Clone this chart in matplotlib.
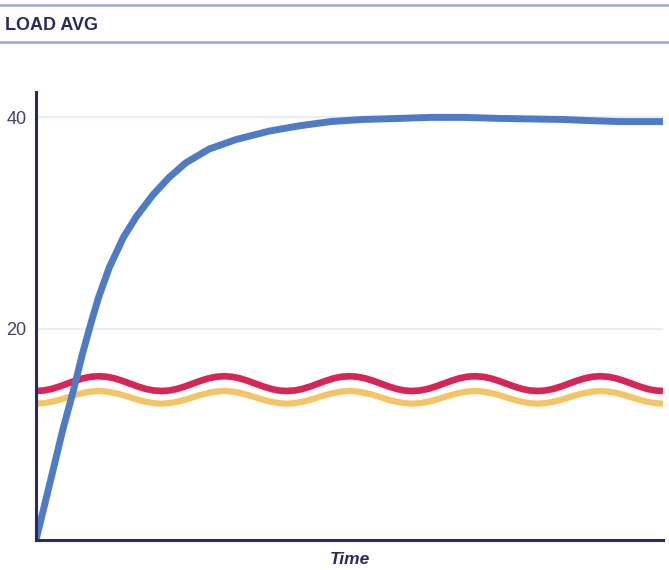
import matplotlib.pyplot as plt
from matplotlib.lines import Line2D

plt.rcParams['font.family'] = ['Liberation Sans', 'DejaVu Sans']

# time axis (0..100)
blue_t = [0, 2.1, 4.3, 5.9, 7.4, 8.8, 10.0, 11.7, 13.9, 16.0, 18.7, 21.2, 23.9,
          27.6, 31.9, 37.2, 42, 47, 52, 58, 63, 68, 74, 79, 84, 88, 93, 100]
blue_v = [0, 5.1, 10.5, 14.0, 17.6, 20.6, 23.0, 25.8, 28.6, 30.6, 32.7, 34.3, 35.7,
          37.0, 37.9, 38.7, 39.2, 39.6, 39.8, 39.9, 40.0, 40.0, 39.9, 39.85, 39.8,
          39.7, 39.6, 39.6]

wave_t = [i * 1.25 for i in range(81)]
red_v = [14.1, 14.15, 14.3, 14.53, 14.8, 15.07, 15.3, 15.45, 15.5, 15.45, 15.3, 15.07, 14.8, 14.53, 14.3, 14.15,
         14.1, 14.15, 14.3, 14.53, 14.8, 15.07, 15.3, 15.45, 15.5, 15.45, 15.3, 15.07, 14.8, 14.53, 14.3, 14.15,
         14.1, 14.15, 14.3, 14.53, 14.8, 15.07, 15.3, 15.45, 15.5, 15.45, 15.3, 15.07, 14.8, 14.53, 14.3, 14.15,
         14.1, 14.15, 14.3, 14.53, 14.8, 15.07, 15.3, 15.45, 15.5, 15.45, 15.3, 15.07, 14.8, 14.53, 14.3, 14.15,
         14.1, 14.15, 14.3, 14.53, 14.8, 15.07, 15.3, 15.45, 15.5, 15.45, 15.3, 15.07, 14.8, 14.53, 14.3, 14.15,
         14.1]
yellow_v = [12.9, 12.95, 13.08, 13.27, 13.5, 13.73, 13.92, 14.05, 14.1, 14.05, 13.92, 13.73, 13.5, 13.27, 13.08, 12.95,
            12.9, 12.95, 13.08, 13.27, 13.5, 13.73, 13.92, 14.05, 14.1, 14.05, 13.92, 13.73, 13.5, 13.27, 13.08, 12.95,
            12.9, 12.95, 13.08, 13.27, 13.5, 13.73, 13.92, 14.05, 14.1, 14.05, 13.92, 13.73, 13.5, 13.27, 13.08, 12.95,
            12.9, 12.95, 13.08, 13.27, 13.5, 13.73, 13.92, 14.05, 14.1, 14.05, 13.92, 13.73, 13.5, 13.27, 13.08, 12.95,
            12.9, 12.95, 13.08, 13.27, 13.5, 13.73, 13.92, 14.05, 14.1, 14.05, 13.92, 13.73, 13.5, 13.27, 13.08, 12.95,
            12.9]

y_ticks = [20, 40]
y_labels = ["20", "40"]

navy = "#2b2866"

fig = plt.figure(figsize=(6.69, 5.70), dpi=100)
ax = fig.add_axes([36 / 669, 30 / 570, 627 / 669, 448 / 570])

for yt in y_ticks:
    ax.axhline(yt, color="#e3eaf7", lw=1.2, zorder=0)

ax.plot(wave_t, yellow_v, color="#f4c566", lw=4.5, solid_capstyle="butt",
        solid_joinstyle="round", zorder=2)
ax.plot(wave_t, red_v, color="#d62658", lw=4.8, solid_capstyle="butt",
        solid_joinstyle="round", zorder=3)
ax.plot(blue_t, blue_v, color="#4f7bc5", lw=5, solid_capstyle="butt",
        solid_joinstyle="round", zorder=4)

ax.set_xlim(0, 100)
ax.set_ylim(0, 42.4)
ax.set_xticks([])
ax.set_yticks(y_ticks)
ax.set_yticklabels(y_labels)
ax.tick_params(axis="y", length=0, pad=7, labelsize=13, labelcolor="#45406e")

for side in ["top", "right"]:
    ax.spines[side].set_visible(False)
for side in ["left", "bottom"]:
    ax.spines[side].set_color(navy)
    ax.spines[side].set_linewidth(2.2)
    ax.spines[side].set_zorder(5)

ax.set_xlabel("Time", fontsize=12.5, fontweight="bold", fontstyle="italic",
              color=navy, labelpad=9)

# header
for yy in [1 - 5 / 570, 1 - 42 / 570]:
    fig.add_artist(Line2D([0, 1], [yy, yy], color="#9ba6d8", lw=1.8,
                          transform=fig.transFigure))
fig.text(5 / 669, 1 - 25 / 570, "LOAD AVG", fontsize=13, fontweight="bold",
         color=navy, va="center", ha="left")

fig.savefig("out.png", dpi=100)
